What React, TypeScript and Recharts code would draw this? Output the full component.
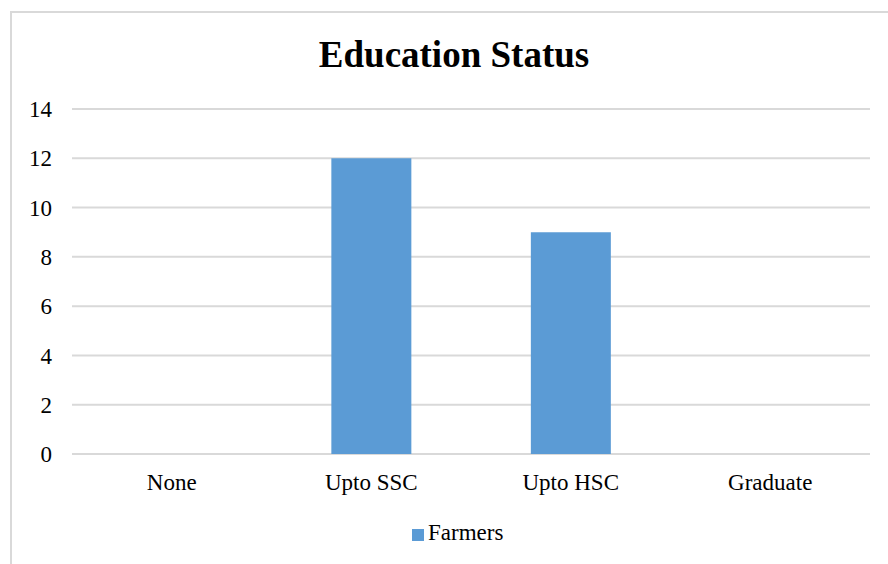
import { BarChart, Bar, XAxis, YAxis, CartesianGrid, Legend } from "recharts";

const categories = ["None", "Upto SSC", "Upto HSC", "Graduate"];
const farmers = [0, 12, 9, 0];
const yTicks = [0, 2, 4, 6, 8, 10, 12, 14];

const data = categories.map((c, i) => ({ name: c, Farmers: farmers[i] }));

const font = '"Liberation Serif", "Times New Roman", serif';

export default function App() {
  return (
    <div>
      <style>{`body{margin:0;overflow:hidden;background:#fff}
.chart-box, .chart-box text, .chart-box .recharts-legend-item-text{font-family:"Liberation Serif","Times New Roman",serif}`}</style>
      <div
        className="chart-box"
        style={{
          position: "absolute",
          left: 10,
          top: 11,
          width: 900,
          height: 560,
          border: "2px solid #d9d9d9",
          background: "#fff",
          fontFamily: font,
        }}
      >
        <div
          style={{
            position: "absolute",
            left: 0,
            width: 884,
            top: 20,
            textAlign: "center",
            fontSize: 37,
            fontWeight: 700,
            color: "#000",
          }}
        >
          Education Status
        </div>
        <BarChart
          width={900}
          height={560}
          data={data}
          margin={{ top: 96, right: 42, left: 0, bottom: 53 }}
          barCategoryGap="30%"
        >
          <CartesianGrid vertical={false} stroke="#d9d9d9" strokeWidth={2} />
          <XAxis
            dataKey="name"
            axisLine={false}
            tickLine={false}
            height={40}
            tickMargin={14}
            tick={{ fontSize: 23, fill: "#000" }}
          />
          <YAxis
            domain={[0, 14]}
            ticks={yTicks}
            width={60}
            axisLine={false}
            tickLine={false}
            tickMargin={14}
            tick={{ fontSize: 23, fill: "#000" }}
          />
          <Legend
            iconType="square"
            iconSize={12}
            wrapperStyle={{ fontSize: 23, bottom: 27, left: 400, width: "auto" }}
            formatter={(v) => <span style={{ color: "#000" }}>{v}</span>}
          />
          <Bar dataKey="Farmers" fill="#5b9bd5" isAnimationActive={false} />
        </BarChart>
      </div>
    </div>
  );
}
